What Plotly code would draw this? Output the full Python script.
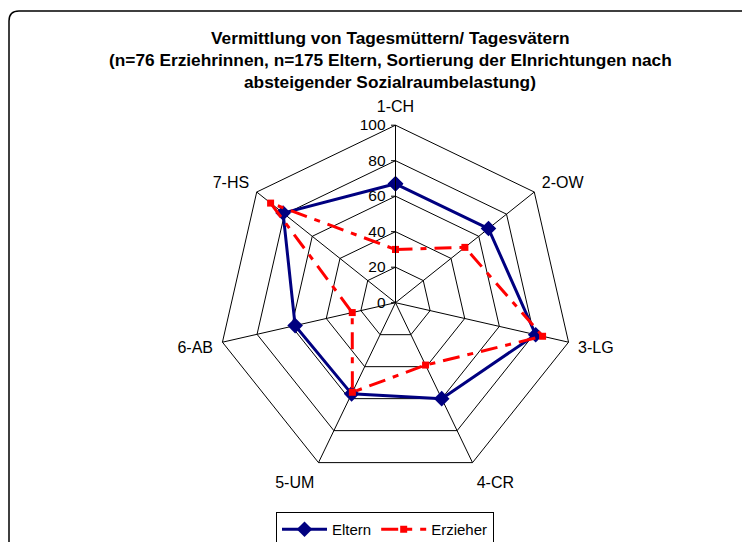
import plotly.graph_objects as go

categories = ["1-CH", "2-OW", "3-LG", "4-CR", "5-UM", "6-AB", "7-HS"]
eltern = [67, 67, 81, 60, 57, 58, 81]
erzieher = [30, 50, 85, 39, 56, 25, 90]
radial_ticks = [0, 20, 40, 60, 80, 100]

title_lines = [
    "Vermittlung von Tagesmüttern/ Tagesvätern",
    "(n=76 Erziehrinnen, n=175 Eltern, Sortierung der EInrichtungen nach",
    "absteigender Sozialraumbelastung)",
]

# the page body has an 8px margin; size the figure so it fits the window
OFF = 8
W, H = 750 - OFF, 542 - OFF
FONT = "Liberation Sans, Arial, sans-serif"


def px(x):
    return (x - OFF) / W


def py(y):
    return 1 - (y - OFF) / H


theta = categories + categories[:1]

fig = go.Figure()
fig.add_trace(go.Scatterpolar(
    r=eltern + eltern[:1], theta=theta, name="Eltern", mode="lines+markers",
    line=dict(color="#000080", width=3),
    marker=dict(symbol="diamond", size=12, color="#000080"),
))
fig.add_trace(go.Scatterpolar(
    r=erzieher + erzieher[:1], theta=theta, name="Erzieher", mode="lines+markers",
    line=dict(color="#FF0000", width=3, dash="17px,8px,6px,8px"),
    marker=dict(symbol="square", size=7, color="#FF0000"),
))

cx, cy, R = 395.5, 302.7, 177.5
fig.update_layout(
    width=W, height=H,
    margin=dict(l=0, r=0, t=0, b=0, autoexpand=False),
    paper_bgcolor="white",
    font=dict(family=FONT, color="#000", size=15),
    showlegend=True,
    polar=dict(
        domain=dict(x=[px(cx - R), px(cx + R)], y=[py(cy + R), py(cy - R)]),
        bgcolor="white",
        gridshape="linear",
        angularaxis=dict(
            direction="clockwise", rotation=90,
            categoryorder="array", categoryarray=categories,
            showline=True, linecolor="#000", linewidth=1,
            gridcolor="#000", gridwidth=1,
            ticks="outside", ticklen=6, tickcolor="rgba(0,0,0,0)",
            tickfont=dict(size=16, family=FONT, color="#000"),
        ),
        radialaxis=dict(
            range=[0, 100], tickvals=radial_ticks, angle=90,
            side="counterclockwise", showline=True, linecolor="#000", linewidth=1,
            gridcolor="#000", gridwidth=1,
            ticks="outside", ticklen=4, tickcolor="#000",
            tickfont=dict(size=15.5, family=FONT, color="#000"),
            tickangle=90,
        ),
    ),
    legend=dict(
        orientation="h", x=px(385), xanchor="center", y=py(512), yanchor="top",
        bordercolor="#000", borderwidth=1, bgcolor="white",
        font=dict(size=15, family=FONT, color="#000"),
        itemwidth=45,
    ),
)

for i, line in enumerate(title_lines):
    fig.add_annotation(
        x=px(390), y=py(38 + 22 * i), xref="paper", yref="paper",
        xanchor="center", yanchor="middle", showarrow=False,
        text="<b>" + line + "</b>",
        font=dict(size=17.3, family=FONT, color="#000"),
    )

# rounded chart frame
x0, y0, rad = 9, 11, 10
path = (f"M {px(x0)},{py(560)} L {px(x0)},{py(y0 + rad)} "
        f"Q {px(x0)},{py(y0)} {px(x0 + rad)},{py(y0)} L {px(770)},{py(y0)}")
fig.add_shape(type="path", path=path, xref="paper", yref="paper",
              line=dict(color="#000", width=1.5), layer="below")

fig.write_html("out.html")
